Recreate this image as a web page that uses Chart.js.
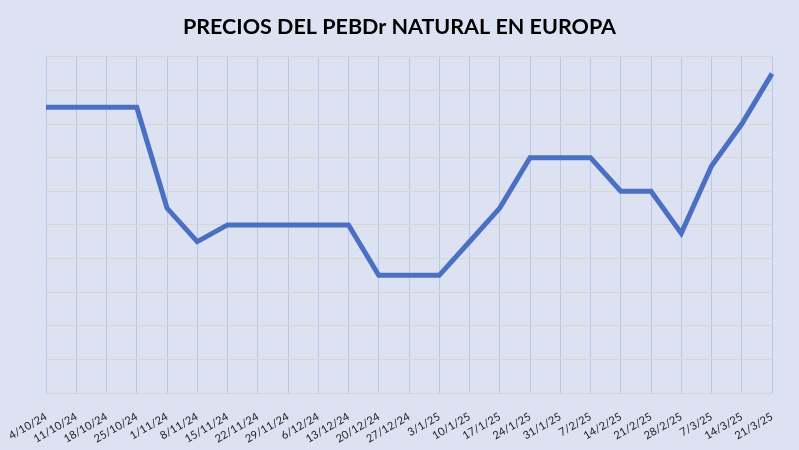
<!DOCTYPE html>
<html>
<head>
<meta charset="utf-8">
<script src="https://cdn.jsdelivr.net/npm/chart.js@4.4.1/dist/chart.umd.min.js"></script>
<style>
	html, body { margin: 0; padding: 0; background: #dde2f2; }
	#wrap { width: 799px; height: 450px; }
</style>
</head>
<body>
<div id="wrap"><canvas id="myChart"></canvas></div>
<script>
let chart_title = "PRECIOS DEL PEBDr NATURAL EN EUROPA";
let x_labels = ["4/10/24", "11/10/24", "18/10/24", "25/10/24", "1/11/24", "8/11/24", "15/11/24", "22/11/24", "29/11/24", "6/12/24", "13/12/24", "20/12/24", "27/12/24", "3/1/25", "10/1/25", "17/1/25", "24/1/25", "31/1/25", "7/2/25", "14/2/25", "21/2/25", "28/2/25", "7/3/25", "14/3/25", "21/3/25"];
// no y values printed on the chart, read off the 10 grid steps
let precios = [8.5, 8.5, 8.5, 8.5, 5.5, 4.5, 5, 5, 5, 5, 5, 3.5, 3.5, 3.5, 4.5, 5.5, 7, 7, 7, 6, 6, 4.75, 6.75, 8, 9.5];
let y_min = 0;
let y_max = 10;

let myChart, data, options;

window.onload = function() {
	openChart();
}

function openChart(){
	data = {
		labels: x_labels,
		datasets: [{
			label: "Precio",
			data: precios,
			borderColor: "#4a6fc3",
			backgroundColor: "#4a6fc3",
			borderWidth: 5,
			pointRadius: 0,
			fill: false,
			tension: 0,
			borderJoinStyle: "miter"
		}]
	};
	options = {
		animation: false,
		responsive: false,
		devicePixelRatio: 1,
		layout: {
			padding: { left: 27, right: 27, top: 0, bottom: 0 }
		},
		scales: {
			x: {
				offset: false,
				grid: { color: "#b9c8e6", lineWidth: 1, drawTicks: false },
				border: { color: "#d8d6d2", width: 1 },
				ticks: {
					autoSkip: false,
					maxRotation: 30,
					minRotation: 30,
					padding: 17,
					color: "#1a1a1a",
					font: { family: "Lato", size: 11 }
				},
				afterFit: function(scale) {
					scale.height = 57;
					scale.paddingLeft = 0;
					scale.paddingRight = 0;
				}
			},
			y: {
				min: y_min,
				max: y_max,
				grid: { color: "#d8d6d2", lineWidth: 1, drawTicks: false },
				border: { display: false },
				ticks: { stepSize: 1, display: false },
				afterFit: function(scale) { scale.width = 19; }
			}
		},
		plugins: {
			legend: { display: false },
			tooltip: { enabled: false },
			title: {
				display: true,
				text: chart_title,
				color: "#000",
				font: { family: "Lato", size: 21.5, weight: "bold" },
				padding: { top: 14, bottom: 17 }
			}
		}
	};
	const cv = document.getElementById('myChart');
	cv.width = 799;
	cv.height = 450;
	const ctx = cv.getContext('2d');
	myChart = new Chart(ctx, {type: 'line', data, options});
}
</script>
</body>
</html>
